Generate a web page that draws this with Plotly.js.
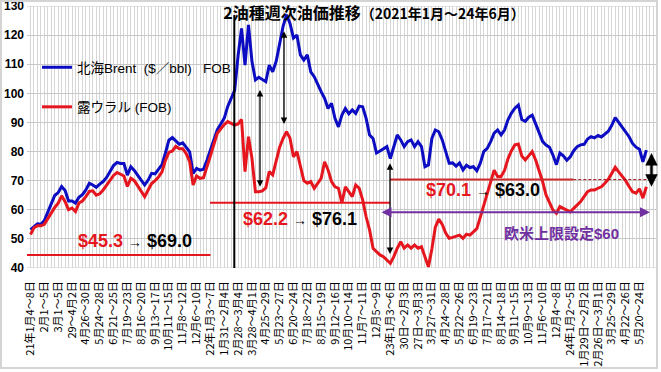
<!DOCTYPE html>
<html><head><meta charset="utf-8">
<script src="https://cdn.plot.ly/plotly-3.0.1.min.js"></script>
<style>html,body{margin:0;padding:0;background:#fff;} #chart{width:661px;height:372px;}</style>
</head><body><div id="chart"></div>
<script>
// Weekly prices, $/bbl (Jan 2021 - Jun 2024)
const brent = [
53.2, 54.3, 55.2, 55.0, 56.3, 59.2, 62.2, 64.9, 65.9, 68.0,
66.6, 63.0, 63.0, 62.3, 64.3, 65.2, 66.8, 69.1, 68.5, 67.7,
68.8, 69.7, 71.1, 73.4, 75.2, 76.3, 75.9, 75.9, 71.9, 74.8,
73.5, 71.8, 70.2, 68.5, 70.2, 72.5, 72.3, 73.9, 75.5, 79.5,
83.9, 84.8, 83.6, 82.5, 83.0, 81.6, 79.9, 72.5, 74.2, 73.6,
73.9, 77.0, 80.5, 84.0, 87.5, 89.5, 91.5, 95.5, 98.0, 101.0,
113.0, 122.3, 109.7, 123.5, 111.0, 104.6, 105.5, 104.6, 104.0, 109.7,
107.4, 111.0, 117.0, 123.0, 127.0, 124.0, 119.0, 120.0, 113.2, 111.4,
113.2, 107.4, 105.7, 102.9, 100.6, 98.3, 94.8, 96.6, 91.4, 88.5,
92.5, 94.8, 93.0, 94.3, 93.1, 95.6, 95.4, 91.4, 85.7, 84.5,
79.5, 80.2, 81.0, 81.7, 77.6, 81.7, 85.7, 84.0, 81.7, 83.4,
84.0, 81.7, 83.4, 81.7, 74.8, 75.4, 84.5, 87.4, 86.8, 84.0,
79.5, 76.0, 76.1, 75.0, 76.1, 73.7, 75.3, 74.5, 74.8, 73.4,
76.0, 80.0, 81.1, 83.4, 86.3, 87.4, 85.7, 87.4, 90.9, 93.2,
94.9, 96.0, 91.0, 90.4, 91.8, 92.5, 89.5, 86.5, 83.5, 82.2,
81.5, 78.8, 75.5, 79.5, 78.5, 77.0, 78.2, 80.3, 81.7, 82.3,
82.5, 84.3, 85.1, 84.7, 85.5, 85.0, 86.0, 87.0, 89.0, 91.7,
90.0, 88.5, 86.8, 85.1, 82.8, 81.5, 80.8, 76.5, 80.5
];
const urals = [
51.5, 53.8, 54.5, 54.5, 55.0, 57.0, 58.9, 60.8, 62.3, 64.8,
62.8, 60.0, 60.6, 59.4, 62.3, 63.0, 64.5, 66.3, 66.5, 65.0,
65.5, 66.8, 68.5, 70.0, 71.8, 72.8, 72.3, 71.6, 68.0, 70.8,
70.0, 68.0, 66.0, 64.5, 66.8, 69.0, 70.0, 71.2, 73.0, 77.0,
79.7, 80.2, 81.8, 81.0, 81.0, 79.3, 76.5, 68.5, 71.6, 70.8,
71.0, 74.5, 78.5, 82.5, 86.3, 87.8, 89.3, 90.3, 89.7, 89.1,
89.5, 91.0, 73.1, 85.1, 77.7, 66.2, 66.2, 66.5, 67.5, 73.1,
72.0, 77.0, 81.5, 84.5, 86.8, 84.6, 78.2, 80.0, 75.0, 70.0,
69.1, 69.7, 67.4, 69.0, 70.8, 76.5, 73.7, 69.7, 67.9, 67.4,
62.4, 67.9, 66.2, 64.5, 68.5, 67.4, 63.4, 57.6, 53.1, 46.8,
45.6, 44.5, 43.9, 42.7, 41.6, 43.9, 46.8, 49.0, 46.8, 47.9,
46.8, 47.9, 46.8, 47.3, 44.0, 40.4, 46.5, 54.0, 56.8, 55.0,
52.0, 50.2, 50.5, 50.8, 51.3, 50.2, 51.6, 51.3, 52.5, 53.5,
57.5, 61.5, 66.0, 70.2, 73.6, 71.4, 71.4, 73.5, 77.5, 80.3,
82.3, 82.6, 78.5, 77.1, 78.5, 80.0, 77.1, 73.7, 69.7, 65.1,
62.2, 59.9, 58.8, 61.1, 60.5, 59.9, 59.3, 60.5, 61.6, 62.8,
64.5, 66.2, 66.8, 66.8, 67.4, 67.9, 69.1, 70.5, 72.5, 74.6,
73.0, 71.5, 70.0, 68.0, 66.2, 65.7, 67.2, 64.0, 67.9
];
// one label every 4 weeks
const tickLabels = [
"21年1月4～8日","2月1～5日","3月1～5日","29～4月2日","4月26～30日","5月24～28日","6月21～25日",
"7月19～23日","8月16～20日","9月13～17日","10月11～15日","11月8～12日","12月6～10日",
"22年1月3～7日","1月31～2月4日","2月28～3月4日","3月28～4月1日","4月25～29日","5月23～27日",
"6月20～24日","7月18～22日","8月15～19日","9月12～16日","10月10～14日","11月7～11日","12月5～9日",
"23年1月3～6日","30日～2月3日","27日～3月3日","3月27～31日","4月24～28日","5月22～26日",
"6月19～23日","7月17～21日","8月14～18日","9月11～15日","10月9～13日","11月6～10日","12月4～8日",
"24年1月2～5日","1月29日～2月2日","2月26日～3月1日","3月25～29日","4月22～26日","5月20～24日"
];
const yTicks = [40, 50, 60, 70, 80, 90, 100, 110, 120, 130];
const seriesNames = ["北海Brent\u00a0\u00a0($／bbl)\u00a0\u00a0\u00a0FOB", "露ウラル (FOB)"];
const avgBefore = [45.3, 62.2, 70.1];
const avgAfter = [69.0, 76.1, 63.0];
const capLabel = "欧米上限設定$60";
const titleMain = "2油種週次油価推移";
const titleSub = "（2021年1月～24年6月）";

const weekIndex = brent.map((_, i) => i);
const tickIdx = tickLabels.map((_, i) => i * 4);

// pixel helpers (plot area 27..656 x 6..268)
const PX0 = 30.5, PXW = 3.46;
const nx = px => (px - PX0) / PXW;
const vy = py => 40 + (268 - py) / (262 / 90);
const L = 27, R = 656, T = 6, B = 268;
const pxp = px => (px - L) / (R - L);
const pyp = py => (B - py) / (B - T);

const BLUE = '#0c0cc2', RED = '#e6161e', PURPLE = '#7030a0', GRID = '#c8c8c8';
const SANS = 'Liberation Sans, Arial, Noto Sans CJK JP, sans-serif';
const CJK = 'Noto Sans CJK JP, Liberation Sans, sans-serif';

const traces = [
  {x: weekIndex, y: brent, type: 'scatter', mode: 'lines', name: seriesNames[0], legendgroup: 'a',
   line: {color: BLUE, width: 3}},
  {x: weekIndex, y: urals, type: 'scatter', mode: 'lines', name: seriesNames[1], legendgroup: 'b',
   line: {color: RED, width: 3}}
];

function priceText(a, b) {
  return '<b><span style="color:' + RED + '">$' + a.toFixed(1) + '</span></b> <span style="font-size:14px">→</span> <b>$' + b.toFixed(1) + '</b>';
}
function dblArrow(px, v1, v2, w, color) {
  return {x: nx(px), y: v2, ax: nx(px), ay: v1, xref: 'x', yref: 'y', axref: 'x', ayref: 'y',
    text: '', showarrow: true, arrowhead: 2, startarrowhead: 2, arrowside: 'end+start',
    arrowsize: 1, startarrowsize: 1, arrowwidth: w, arrowcolor: color || '#000', standoff: 0, startstandoff: 0};
}

const annotations = [
  {x: nx(135), y: vy(240.7), xref: 'x', yref: 'y', text: priceText(avgBefore[0], avgAfter[0]), showarrow: false,
   font: {family: SANS, size: 18, color: '#000'}},
  {x: nx(300), y: vy(219), xref: 'x', yref: 'y', text: priceText(avgBefore[1], avgAfter[1]), showarrow: false,
   font: {family: SANS, size: 18, color: '#000'}},
  {x: nx(482.5), y: vy(190), xref: 'x', yref: 'y', text: priceText(avgBefore[2], avgAfter[2]), showarrow: false,
   font: {family: SANS, size: 18, color: '#000'}},
  {x: nx(561), y: vy(233.3), xref: 'x', yref: 'y', text: '<b>' + capLabel + '</b>', showarrow: false,
   font: {family: SANS, size: 15, color: PURPLE}},
  dblArrow(260, 101.7, 67.9, 1.3),
  dblArrow(284, 121.8, 89.5, 1.3),
  dblArrow(390, 76.5, 44.8, 1.3),
  dblArrow(651.5, 80.0, 67.9, 2.5),
  {x: nx(650), y: vy(212.3), ax: nx(380), ay: vy(212.3), xref: 'x', yref: 'y', axref: 'x', ayref: 'y',
   text: '', showarrow: true, arrowhead: 2, startarrowhead: 2, arrowside: 'end+start',
   arrowsize: 1, startarrowsize: 1, arrowwidth: 2, arrowcolor: PURPLE, standoff: 0, startstandoff: 0}
];

const shapes = [
  {type: 'line', xref: 'paper', yref: 'y', x0: 0, x1: 1, y0: 130, y1: 130, layer: 'below', line: {color: GRID, width: 1}},
  {type: 'line', xref: 'paper', yref: 'y', x0: 0, x1: 1, y0: 40, y1: 40, layer: 'below', line: {color: GRID, width: 1}},
  {type: 'line', xref: 'x', yref: 'y', x0: nx(27), x1: nx(210.5), y0: vy(255), y1: vy(255), line: {color: RED, width: 2}},
  {type: 'line', xref: 'x', yref: 'y', x0: nx(210), x1: nx(390), y0: vy(202.7), y1: vy(202.7), line: {color: RED, width: 2}},
  {type: 'line', xref: 'x', yref: 'y', x0: nx(390), x1: nx(573.3), y0: vy(179.6), y1: vy(179.6), line: {color: '#d02a2a', width: 2}},
  {type: 'line', xref: 'x', yref: 'y', x0: nx(573.3), x1: nx(648), y0: vy(179.6), y1: vy(179.6), line: {color: '#a01010', width: 1, dash: '3px,2px'}},
  {type: 'line', xref: 'x', yref: 'y', x0: nx(234.3), x1: nx(234.3), y0: 40, y1: vy(15), line: {color: '#000', width: 2}},
  {type: 'rect', xref: 'paper', yref: 'paper', x0: pxp(1), x1: pxp(657), y0: pyp(368), y1: pyp(1), line: {color: '#d4d4d4', width: 2}, fillcolor: 'rgba(0,0,0,0)'}
];

const layout = {
  width: 661, height: 372,
  margin: {l: L, r: 661 - R, t: T, b: 372 - B},
  paper_bgcolor: '#fff', plot_bgcolor: '#fff',
  title: {text: '<b>' + titleMain + '<span style="font-size:14px">' + titleSub + '</span></b>',
    font: {family: CJK, size: 16, color: '#000'},
    x: 374 / 661, xanchor: 'center', xref: 'container', y: 1 - 13.5 / 372, yanchor: 'middle', yref: 'container'},
  showlegend: true,
  legend: {x: pxp(37), y: pyp(52), xanchor: 'left', yanchor: 'top', bgcolor: 'rgba(0,0,0,0)',
    font: {family: SANS, size: 13.5, color: '#000'}, itemwidth: 30, tracegroupgap: 19},
  xaxis: {range: [nx(L), nx(R)], tickmode: 'array', tickvals: tickIdx, ticktext: tickLabels,
    tickangle: -90, tickfont: {family: CJK, size: 11, color: '#000'}, ticks: '', ticklabelstandoff: 10,
    showgrid: true, gridcolor: '#d6d6d6', gridwidth: 1, zeroline: false, showline: false, automargin: false,
    minor: {tickmode: 'linear', tick0: 0, dtick: 1, showgrid: true, gridcolor: '#d6d6d6', gridwidth: 1, ticks: ''}},
  yaxis: {range: [40, 130], tickmode: 'array', tickvals: yTicks, ticktext: yTicks.map(String),
    tickfont: {family: SANS, size: 12, color: '#000', weight: 'bold'}, ticks: '', ticklabelstandoff: 2,
    ticklabeloverflow: 'allow',
    showgrid: true, gridcolor: GRID, gridwidth: 1, zeroline: false, showline: false, automargin: false},
  annotations: annotations,
  shapes: shapes
};

Plotly.newPlot('chart', traces, layout, {displayModeBar: false, staticPlot: true});
</script>
</body></html>
